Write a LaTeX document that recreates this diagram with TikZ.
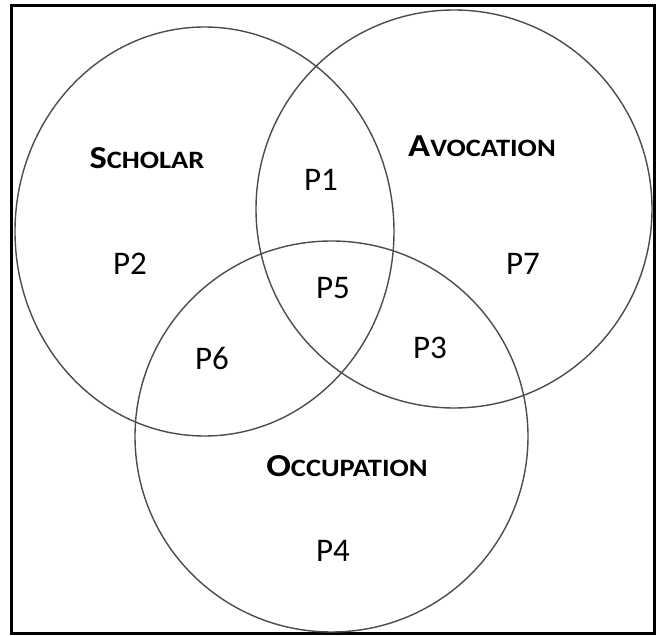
\documentclass[tikz,border=0pt]{standalone}
\usepackage{fontspec}
\usepackage{graphicx}
\setmainfont{Carlito}
\newcommand\firstcapx[1]{{\fontsize{32}{32}\selectfont #1}}
\newcommand\restcapx[1]{{\fontsize{25}{25}\selectfont #1}}
\newcommand\widecaps[2]{\scalebox{1.14}[1]{\firstcapx{#1}\restcapx{#2}}}
\begin{document}
\begin{tikzpicture}[x=1pt,y=-1pt,
  venn/.style={draw=black!70,line width=1.4pt},
  plabel/.style={font=\fontsize{33}{36}\selectfont,inner sep=0pt,anchor=center},
  setlabel/.style={font=\bfseries,inner sep=0pt,anchor=center}]
\useasboundingbox (0,0) rectangle (657,636);
\fill[white] (0,0) rectangle (657,636);
\draw[line width=3pt] (11.5,6) rectangle (654.5,634);
\draw[venn] (204.5,231.5) ellipse [x radius=189.5pt, y radius=204.5pt];
\draw[venn] (454,209) ellipse [x radius=198pt, y radius=199pt];
\draw[venn] (331.5,436.5) ellipse [x radius=196.5pt, y radius=195.5pt];
\node[setlabel] (scholar) at (147,158) {\widecaps{S}{CHOLAR}};
\node[setlabel] (avocation) at (482,146) {\widecaps{A}{VOCATION}};
\node[setlabel] (occupation) at (347,466) {\widecaps{O}{CCUPATION}};
\node[plabel] (p1) at (321,180) {P1};
\node[plabel] (p2) at (130,264) {P2};
\node[plabel] (p3) at (430,348) {P3};
\node[plabel] (p4) at (333,551) {P4};
\node[plabel] (p5) at (333,288) {P5};
\node[plabel] (p6) at (212,358) {P6};
\node[plabel] (p7) at (523,264) {P7};
\end{tikzpicture}
\end{document}
